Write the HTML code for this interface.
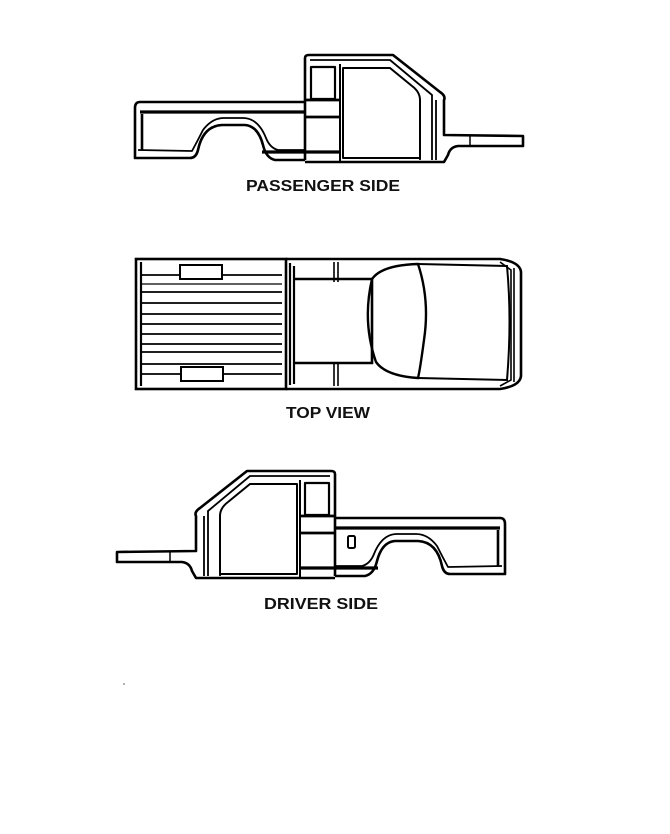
<!DOCTYPE html>
<html><head><style>
html,body{margin:0;padding:0;background:#fff;}
svg{display:block}
text{font-family:"Liberation Sans",sans-serif;font-weight:bold;font-size:16px;fill:#111}
</style></head><body>
<svg width="670" height="834" viewBox="0 0 670 834" xmlns="http://www.w3.org/2000/svg">
<defs>
<g id="truck" fill="none" stroke="#000" stroke-width="2.6" stroke-linejoin="round">
  <path d="M305 102 L140 102 Q135 102 135 108 L135 158 L190 158 Q196 158 198 150 Q203 126 222 125 L245 125 Q258 126 263 145 Q266 158 275 160 L305 160"/>
  <path d="M140 112 L305 112" stroke-width="3.2"/>
  <path d="M142 114 L142 150"/>
  <path d="M138 150 L192 151 Q198 140 203 130 Q212 118 224 118 L243 118 Q258 118 266 138 Q270 148 278 150 L305 150" stroke-width="1.8"/>
  <path d="M262 152 L340 152" stroke-width="3.2"/>
  <path d="M305 160 L305 58 Q305 55 309 55 L393 55 L440 92 Q446 96 444 100 L444 135 L523 136 L523 146 L458 146 Q450 147 448 155 L444 162 L305 162"/>
  <path d="M310 60 L390 60 L432 95 L432 160" stroke-width="1.8"/>
  <path d="M420 100 L420 160" stroke-width="1.8"/>
  <path d="M436 100 L436 160" stroke-width="1.8"/>
  <rect x="311" y="67" width="24" height="32" stroke-width="2.2"/>
  <path d="M305 100 L340 100 M305 117 L340 117" stroke-width="2.8"/>
  <path d="M340 64 L340 162 M343 68 L343 158 L420 158 L420 100 Q420 92 412 86 L390 68 Z" stroke-width="2"/>
  <path d="M470 136 L470 146" stroke-width="1.5"/>
</g>
</defs>

<use href="#truck"/>
<text x="246" y="191" textLength="154" lengthAdjust="spacingAndGlyphs">PASSENGER SIDE</text>

<g fill="none" stroke="#000" stroke-width="2.2">
  <rect x="136" y="259" width="150" height="130" stroke-width="2.6"/>
  <path d="M141 262 L141 386"/>
  <path d="M141 275 L282 275 M141 292 L282 292 M141 303 L282 303 M141 314 L282 314 M141 324 L282 324 M141 334 L282 334 M141 344 L282 344 M141 352 L282 352 M141 364 L282 364 M141 374 L282 374" stroke-width="1.8"/>
  <path d="M141 284 L282 284" stroke-width="1.3"/>
  <rect x="180" y="265" width="42" height="14" fill="#fff" stroke-width="2"/>
  <rect x="181" y="367" width="42" height="14" fill="#fff" stroke-width="2"/>
  <path d="M286 259 L500 259 Q520 262 521 272 L521 376 Q520 386 500 389 L286 389" stroke-width="2.6"/>
  <path d="M290 263 L290 385"/>
  <path d="M294 279 L372 279 L372 363 L294 363" stroke-width="2.6"/>
  <path d="M294 266 L294 384"/>
  <path d="M334 262 L334 282 M338 262 L338 282 M334 362 L334 386 M338 362 L338 386" stroke-width="1.6"/>
  <path d="M372 279 Q382 265 418 264 Q430 300 424 340 Q420 370 418 378 Q386 376 376 362 Q362 322 372 279 Z" stroke-width="2.4"/>
  <path d="M418 264 L507 266 Q512 320 507 380 L418 378" stroke-width="2"/>
  <path d="M500 262 L511 270 L511 380 L500 386 M514 268 L514 382" stroke-width="1.6"/>
</g>
<text x="286" y="418" textLength="84" lengthAdjust="spacingAndGlyphs">TOP VIEW</text>

<use href="#truck" transform="translate(640,416) scale(-1,1)"/>
<rect x="348" y="536" width="7" height="12" rx="1.5" fill="none" stroke="#000" stroke-width="2"/>
<text x="264" y="609" textLength="114" lengthAdjust="spacingAndGlyphs">DRIVER SIDE</text>
<circle cx="124" cy="684" r="0.8" fill="#555"/>
</svg>
</body></html>
